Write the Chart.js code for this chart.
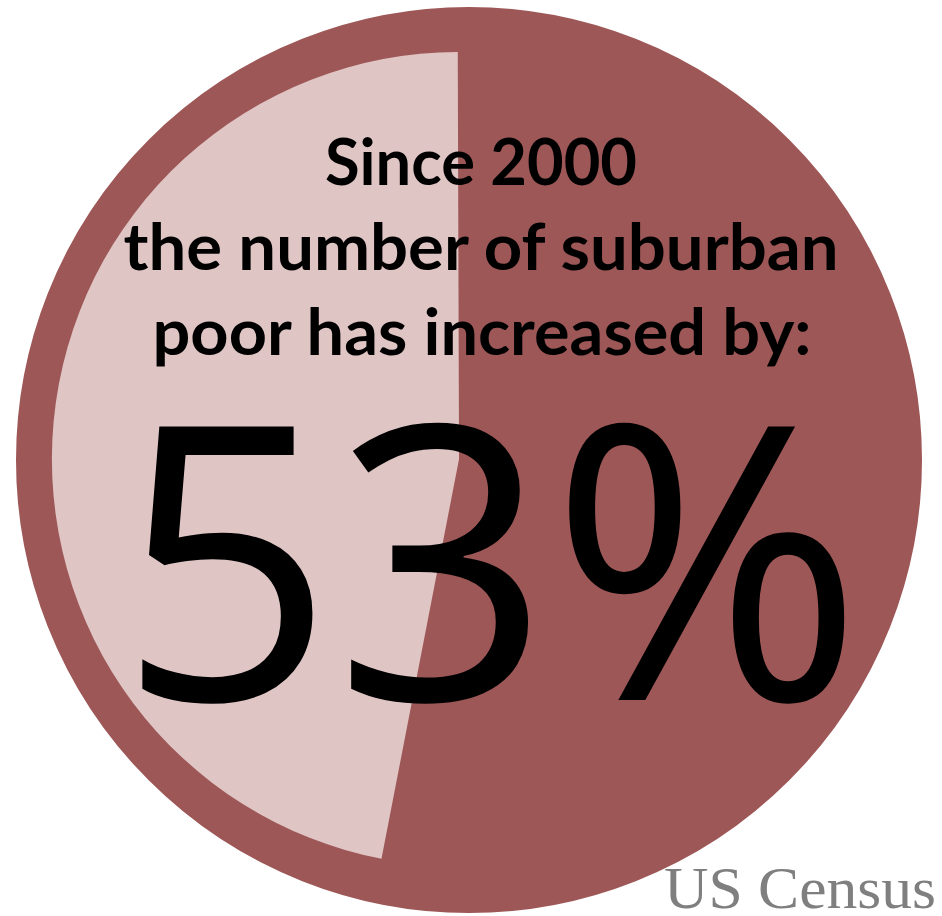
<!DOCTYPE html>
<html lang="en">
<head>
  <meta charset="UTF-8" />
  <title>Suburban Poverty Since 2000</title>
  <script src="https://cdn.jsdelivr.net/npm/chart.js"></script>
  <style>
    body {
      margin: 0;
      width: 942px;
      height: 916px;
      background: #fff;
      overflow: hidden;
      position: relative;
    }
    .chart-box {
      position: absolute;
      left: 16px;
      top: 7px;
      width: 906px;
      height: 906px;
    }
    svg.overlay {
      position: absolute;
      left: 0;
      top: 0;
      pointer-events: none;
    }
    .headline {
      font-family: Lato, "Open Sans", sans-serif;
      font-weight: 700;
      font-size: 65px;
      fill: #000;
    }
    .big {
      font-family: "Open Sans", Lato, sans-serif;
      font-weight: 400;
      font-size: 383px;
      fill: #000;
    }
    .source {
      font-family: "Liberation Serif", "DejaVu Serif", serif;
      font-size: 60px;
      fill: #7f7f7f;
    }
  </style>
</head>
<body>

  <div class="chart-box">
    <canvas id="pieChart"></canvas>
  </div>

  <svg class="overlay" width="942" height="916">
    <text class="headline" x="481" y="185" text-anchor="middle" textLength="312" lengthAdjust="spacingAndGlyphs">Since 2000</text>
    <text class="headline" x="481" y="270" text-anchor="middle" textLength="715" lengthAdjust="spacingAndGlyphs">the number of suburban</text>
    <text class="headline" x="482" y="355" text-anchor="middle" textLength="659" lengthAdjust="spacingAndGlyphs">poor has increased by:</text>
    <text class="big" x="118" y="700" textLength="745" lengthAdjust="spacingAndGlyphs">53%</text>
    <text class="source" x="664" y="908" textLength="272" lengthAdjust="spacingAndGlyphs">US Census</text>
  </svg>

  <script>
    // data
    const labels = ['Increase since 2000', 'Rest'];
    const shares = [53, 47];
    const frame = [1];

    const darkRed = '#9e5757';
    const lightPink = '#e0c5c5';

    const ctx = document.getElementById('pieChart').getContext('2d');
    const pieChart = new Chart(ctx, {
      type: 'pie',
      data: {
        labels: labels,
        datasets: [
          {
            // thin outer frame, drawn underneath
            label: 'frame',
            data: frame,
            backgroundColor: darkRed,
            borderColor: darkRed,
            borderWidth: 40,
            weight: 0.035,
            order: 1
          },
          {
            label: 'Suburban poor',
            data: shares,
            backgroundColor: [darkRed, lightPink],
            // dark border fills the seam left by the pulled-out slice
            borderColor: darkRed,
            borderWidth: [28, 0],
            borderJoinStyle: 'round',
            offset: [0, 40],
            weight: 1,
            order: 0
          }
        ]
      },
      options: {
        responsive: true,
        maintainAspectRatio: false,
        animation: false,
        events: [],
        plugins: {
          legend: { display: false },
          tooltip: { enabled: false },
          title: { display: false }
        }
      }
    });
  </script>

</body>
</html>
